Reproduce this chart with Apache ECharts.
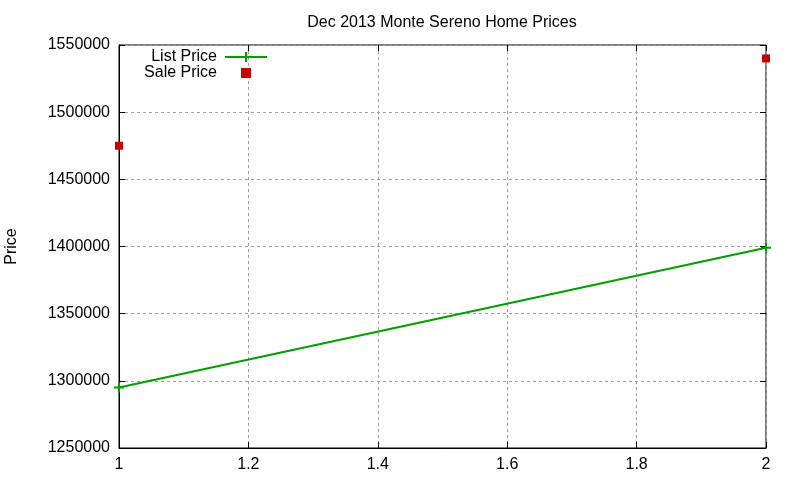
<!DOCTYPE html>
<html lang="en">
<head>
<meta charset="UTF-8">
<script src="https://cdn.jsdelivr.net/npm/echarts@6/dist/echarts.min.js"></script>
<title>Dec 2013 Monte Sereno Home Prices</title>
<style>
  html, body { margin: 0; padding: 0; background: #fff; }
  #main { width: 800px; height: 480px; }
</style>
</head>
<body>
<div id="main"></div>
<script>
// data
var xValues = [1, 2];
var listPrice = [1295000, 1399000];
var salePrice = [1475000, 1540000];
var xTicks = [1, 1.2, 1.4, 1.6, 1.8, 2];
var yTicks = [1250000, 1300000, 1350000, 1400000, 1450000, 1500000, 1550000];

var font = 'Liberation Sans';
var plusPath = 'path://M4,0h2v10h-2z M0,4h10v2h-10z';

function pairs(xs, ys) {
    var out = [];
    for (var i = 0; i < xs.length; i++) out.push([xs[i], ys[i]]);
    return out;
}

var gridLine = { show: true, lineStyle: { color: '#a0a0a0', type: [3, 3], width: 1 } };

var option = {
    animation: false,
    backgroundColor: '#fff',
    textStyle: { fontFamily: font },
    title: {
        text: 'Dec 2013 Monte Sereno Home Prices',
        left: 437, top: 10, textAlign: 'center',
        textStyle: { fontFamily: font, fontSize: 16, fontWeight: 'normal', color: '#000' }
    },
    legend: {
        orient: 'vertical',
        right: 528, top: 44,
        align: 'right',
        itemWidth: 48, itemHeight: 10,
        itemGap: 0,
        textStyle: { fontFamily: font, fontSize: 16, color: '#000' },
        data: [
            { name: 'List Price', icon: 'path://M0,4h42v2h-42z M20,0h2v10h-2z' },
            { name: 'Sale Price', icon: 'path://M0,0h1v1h-1z' }
        ]
    },
    grid: {
        left: 119, right: 34, top: 45, bottom: 32,
        outerBoundsMode: 'none',
        show: true, borderColor: '#000', borderWidth: 1
    },
    xAxis: [{
        type: 'value', min: xTicks[0], max: xTicks[xTicks.length - 1], interval: 0.2,
        axisLine: { show: true, lineStyle: { color: '#000' } },
        axisTick: { inside: true, length: 6, lineStyle: { color: '#000' } },
        axisLabel: { color: '#000', fontSize: 16, margin: 9,
            formatter: function (v) { return String(Math.round(v * 10) / 10); } },
        splitLine: gridLine
    }, {
        type: 'value', position: 'top', min: xTicks[0], max: xTicks[xTicks.length - 1], interval: 0.2,
        axisLine: { show: false },
        axisTick: { inside: true, length: 6, lineStyle: { color: '#000' } },
        axisLabel: { show: false }, splitLine: { show: false }
    }],
    yAxis: [{
        type: 'value', min: yTicks[0], max: yTicks[yTicks.length - 1], interval: 50000,
        name: 'Price', nameLocation: 'middle', nameGap: 99, nameRotate: 90,
        nameTextStyle: { color: '#000', fontSize: 16, fontFamily: font },
        axisLine: { show: true, lineStyle: { color: '#000' } },
        axisTick: { inside: true, length: 6, lineStyle: { color: '#000' } },
        axisLabel: { color: '#000', fontSize: 16, margin: 9,
            formatter: function (v) { return String(v); } },
        splitLine: gridLine
    }, {
        type: 'value', position: 'right', min: yTicks[0], max: yTicks[yTicks.length - 1], interval: 50000,
        axisLine: { show: false },
        axisTick: { inside: true, length: 6, lineStyle: { color: '#000' } },
        axisLabel: { show: false }, splitLine: { show: false }
    }],
    series: [{
        name: 'List Price',
        type: 'line',
        data: pairs(xValues, listPrice),
        color: '#00a000',
        lineStyle: { width: 2, color: '#00a000' },
        symbol: plusPath, symbolSize: 10, showAllSymbol: true,
        itemStyle: { color: '#00a000' },
        clip: false
    }, {
        name: 'Sale Price',
        type: 'scatter',
        data: pairs(xValues, salePrice),
        color: '#cc0000',
        symbol: 'rect', symbolSize: 8,
        itemStyle: { color: '#cc0000', opacity: 1 },
        clip: false
    }]
};

var myChart = echarts.init(document.getElementById('main'));
myChart.setOption(option);
</script>
</body>
</html>
